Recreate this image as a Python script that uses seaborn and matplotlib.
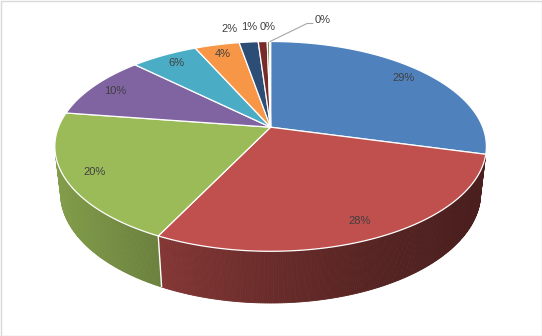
import numpy as np
import matplotlib
matplotlib.use("Agg")
import matplotlib.pyplot as plt
import seaborn as sns
from matplotlib.patches import Polygon, Rectangle
from matplotlib.colors import to_rgb

# ---- data ----
values = [29.1, 28.2, 20.0, 9.9, 6.0, 4.0, 1.7, 0.8, 0.2, 0.1]
colors = ["#4F81BD", "#C0504D", "#9BBB59", "#8064A2", "#4BACC6",
          "#F79646", "#2C4D75", "#772C2A", "#5F7530", "#4D3B62"]
pct_labels = [f"{round(v):.0f}%" for v in values]

sns.set_style("white")
plt.rcParams['font.family'] = ['Liberation Sans', 'DejaVu Sans']

W, H = 542, 336
fig = plt.figure(figsize=(W / 100, H / 100), dpi=100)
ax = fig.add_axes([0, 0, 1, 1])
ax.set_xlim(0, W)
ax.set_ylim(H, 0)
ax.axis('off')

# ---- perspective projection of a tilted cylinder ----
tilt = np.radians(29)
c, s = np.cos(tilt), np.sin(tilt)
D = 4.78
fx, fy = 1014.0, 999.6
cx, cy = 270.6, 127.2
thick = 0.256


def proj(theta, r=1.0, z=0.0):
    X = r * np.cos(theta)
    Y = r * np.sin(theta)
    w = D + Y * c - z * s
    u = cx + fx * X / w
    v = cy - fy * (Y * s + z * c) / w
    return u, v


total = float(sum(values))
cum = np.concatenate([[0], np.cumsum(values)]) / total
bounds = np.radians(90 - 360 * cum)  # clockwise from 12 o'clock

u_left = cx - 216
u_right = cx + 216


def shade(u):
    t = np.clip((u_right - u) / (u_right - u_left), 0, 1)
    return 0.39 + 0.45 * t ** 1.5


# side walls (front facing part only)
limit = -1.0 / (D * c) - 0.02
step = np.radians(0.5)
for i, col in enumerate(colors):
    a0, a1 = bounds[i], bounds[i + 1]
    n = max(2, int(abs(a1 - a0) / step) + 1)
    th = np.linspace(a0, a1, n)
    base = np.array(to_rgb(col))
    for k in range(n - 1):
        t0, t1 = th[k], th[k + 1]
        if np.sin(0.5 * (t0 + t1)) >= limit:
            continue
        p1 = proj(t0); p2 = proj(t1)
        p3 = proj(t1, z=-thick); p4 = proj(t0, z=-thick)
        f = shade(0.5 * (p1[0] + p2[0]))
        cc = np.clip(base * f, 0, 1)
        ax.add_patch(Polygon([p1, p2, p3, p4], closed=True, facecolor=cc,
                             edgecolor=cc, lw=0.6, zorder=1))

# white separators on visible wall boundaries
for b in bounds:
    if np.sin(b) < limit - 0.1:
        pa = proj(b); pb = proj(b, z=-thick)
        ax.plot([pa[0], pb[0]], [pa[1], pb[1]], color="white", lw=1.0,
                zorder=2, solid_capstyle='butt')

# top faces
for i, col in enumerate(colors):
    a0, a1 = bounds[i], bounds[i + 1]
    n = max(2, int(abs(a1 - a0) / np.radians(0.5)) + 2)
    th = np.linspace(a0, a1, n)
    pts = [proj(0, r=0.0)] + [proj(t) for t in th]
    ax.add_patch(Polygon(pts, closed=True, facecolor=col, edgecolor="white",
                         lw=0.9, joinstyle='round', zorder=3))

# ---- labels ----
txt_col = "#404040"
fs = 8
# offsets (pixels) for the small outside labels, relative to the rim point
small_offsets = {6: (-18.8, -12.6), 7: (-13.8, -14.6), 8: (-1.1, -14.6)}
for i, lab in enumerate(pct_labels):
    mid = 0.5 * (bounds[i] + bounds[i + 1])
    if values[i] / total >= 0.03:
        u, v = proj(mid, r=0.87)
        ax.text(u, v, lab, ha="center", va="center", fontsize=fs,
                color=txt_col, zorder=5)
    elif i in small_offsets:
        u, v = proj(mid)
        dx, dy = small_offsets[i]
        ax.text(u + dx, v + dy, lab, ha="center", va="center", fontsize=fs,
                color=txt_col, zorder=5)
    else:
        u, v = proj(mid)
        ax.plot([u, u + 37, u + 43], [v, v - 18, v - 18], color="#A6A6A6",
                lw=0.8, zorder=4)
        ax.text(u + 53, v - 21.5, lab, ha="center", va="center", fontsize=fs,
                color=txt_col, zorder=5)

ax.add_patch(Rectangle((0.5, 0.5), W - 1, H - 1, fill=False,
                       edgecolor="#D9D9D9", lw=1.0, zorder=6))

fig.savefig("out.png", dpi=100)
